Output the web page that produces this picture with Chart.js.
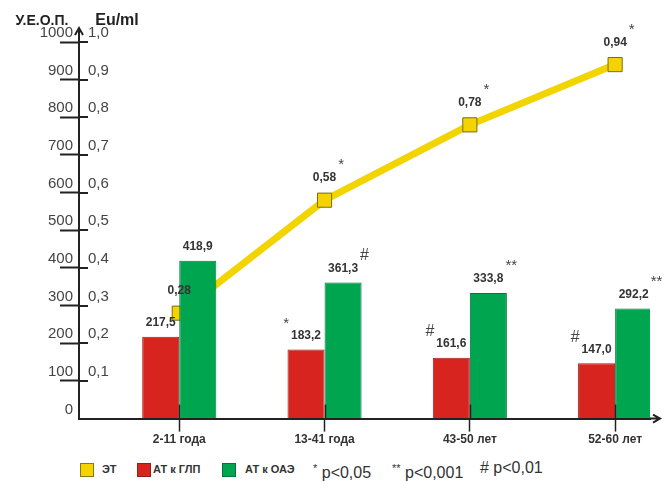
<!DOCTYPE html>
<html lang="ru">

<head>
    <meta charset="UTF-8">
    <title>ЭТ, АТ к ГЛП, АТ к ОАЭ</title>
    <style>
        body {
            margin: 0;
            padding: 0;
            background-color: #fff;
            font-family: "Liberation Sans", Arial, sans-serif;
        }

        .wrap {
            position: relative;
            width: 665px;
            height: 481px;
        }

        .chart-box {
            position: absolute;
            left: 0;
            top: 0;
            width: 665px;
            height: 452px;
        }

        .legend span {
            position: absolute;
            top: 460px;
            line-height: 18px;
            color: #333;
            white-space: nowrap;
        }

        .legend .box {
            width: 12px;
            height: 12px;
            top: 463px;
            border: 1px solid #555;
        }

        .legend .lbl {
            font-size: 11px;
            font-weight: bold;
        }

        .legend .sig {
            font-size: 16px;
            top: 459px;
        }
    </style>
</head>

<body>

    <div class="wrap">
        <div class="chart-box">
            <canvas id="mainChart"></canvas>
        </div>
        <div class="legend">
            <span class="box" style="left:80px; background:#f5d300; border-color:#8a7a10"></span>
            <span class="lbl" style="left:102px">ЭТ</span>
            <span class="box" style="left:137px; background:#d8241f; border-color:#a01a16"></span>
            <span class="lbl" style="left:153px">АТ к ГЛП</span>
            <span class="box" style="left:222px; background:#00a550; border-color:#00763a"></span>
            <span class="lbl" style="left:245px">АТ к ОАЭ</span>
            <span class="sig" style="left:313px"><sup style="font-size:11px">*</sup> p&lt;0,05</span>
            <span class="sig" style="left:392px"><sup style="font-size:11px">**</sup> p&lt;0,001</span>
            <span class="sig" style="left:480px"># p&lt;0,01</span>
        </div>
    </div>

    <script src="https://cdn.jsdelivr.net/npm/chart.js"></script>

    <script>
        // data
        var ageGroups = ['2-11 года', '13-41 года', '43-50 лет', '52-60 лет'];
        var etValues = [0.28, 0.58, 0.78, 0.94];      // Eu/ml
        var glpValues = [217.5, 183.2, 161.6, 147.0]; // У.Е.О.П.
        var oaeValues = [418.9, 361.3, 333.8, 292.2]; // У.Е.О.П.
        var etMarks = ['', '*', '*', '*'];
        var glpMarks = ['', '*', '#', '#'];
        var oaeMarks = ['', '#', '**', '**'];

        var FONT = '"Liberation Sans", Arial, sans-serif';
        var AXIS = '#222';

        function fmt(v, d) {
            return v.toFixed(d).replace('.', ',');
        }

        function points(values) {
            return values.map((v, i) => ({ x: i, y: v }));
        }

        // value labels and significance signs above each mark
        var valueLabels = {
            id: 'valueLabels',
            afterDatasetsDraw(chart) {
                var ctx = chart.ctx;
                ctx.save();
                chart.data.datasets.forEach((ds, di) => {
                    var meta = chart.getDatasetMeta(di);
                    var isLine = ds.type === 'line';
                    meta.data.forEach((el, i) => {
                        var txt = fmt(ds.data[i].y, isLine ? 2 : 1);
                        var ty = el.y - (isLine ? 22 : 14);
                        ctx.font = 'bold 12px ' + FONT;
                        ctx.fillStyle = '#333';
                        ctx.textAlign = 'center';
                        ctx.textBaseline = 'middle';
                        ctx.fillText(txt, el.x, ty);
                        var w = ctx.measureText(txt).width;
                        var mark = ds.marks[i];
                        if (mark) {
                            ctx.font = (mark === '#' ? '16px ' : '15px ') + FONT;
                            ctx.fillStyle = '#444';
                            if (ds.markSide === 'left') {
                                ctx.textAlign = 'right';
                                ctx.fillText(mark, el.x - w / 2 - 2, ty - 12);
                            } else {
                                ctx.textAlign = 'left';
                                ctx.fillText(mark, el.x + w / 2 + 2, ty - 13);
                            }
                        }
                    });
                });
                // small tick marks running up into the bars
                var xs = chart.scales.x;
                var bottom = chart.chartArea.bottom;
                ctx.strokeStyle = AXIS;
                ctx.lineWidth = 1.5;
                xs.ticks.forEach(t => {
                    var px = Math.round(xs.getPixelForValue(t.value)) + 0.5;
                    ctx.beginPath();
                    ctx.moveTo(px, bottom - 14);
                    ctx.lineTo(px, bottom);
                    ctx.stroke();
                });
                ctx.restore();
            }
        };

        // arrows on the axes, tick stubs right of the y axis, axis units
        var axisDecor = {
            id: 'axisDecor',
            afterDraw(chart) {
                var ctx = chart.ctx;
                var area = chart.chartArea;
                var ys = chart.scales.y;
                var left = area.left;
                var bottom = area.bottom;
                ctx.save();
                ctx.strokeStyle = AXIS;
                ctx.fillStyle = AXIS;
                ctx.lineWidth = 2;

                ctx.beginPath();
                ctx.moveTo(left, area.top);
                ctx.lineTo(left, 28);
                ctx.moveTo(left - 4, 35);
                ctx.lineTo(left, 28);
                ctx.lineTo(left + 4, 35);
                ctx.stroke();

                ctx.beginPath();
                ctx.moveTo(area.right, bottom);
                ctx.lineTo(660, bottom);
                ctx.moveTo(653, bottom - 4);
                ctx.lineTo(660, bottom);
                ctx.lineTo(653, bottom + 4);
                ctx.stroke();

                ys.ticks.forEach(t => {
                    if (t.value === 0) return;
                    var py = Math.round(ys.getPixelForValue(t.value));
                    ctx.beginPath();
                    ctx.moveTo(left, py);
                    ctx.lineTo(left + 9, py);
                    ctx.stroke();
                });

                ctx.textBaseline = 'middle';
                ctx.textAlign = 'center';
                ctx.font = 'bold 14px ' + FONT;
                ctx.fillText('У.Е.О.П.', 42, 21);
                ctx.font = 'bold 16px ' + FONT;
                ctx.fillText('Eu/ml', 117, 21);
                ctx.restore();
            }
        };

        var ctx = document.getElementById('mainChart').getContext('2d');
        new Chart(ctx, {
            type: 'bar',
            data: {
                datasets: [
                    {
                        type: 'line',
                        label: 'ЭТ',
                        data: points(etValues),
                        yAxisID: 'y1',
                        borderColor: '#f2d400',
                        borderWidth: 7,
                        pointStyle: 'rect',
                        pointRadius: 10,
                        pointBackgroundColor: '#f5d300',
                        pointBorderColor: '#7d6c10',
                        pointBorderWidth: 1,
                        marks: etMarks,
                        markSide: 'right',
                        order: 3
                    },
                    {
                        label: 'АТ к ГЛП',
                        data: points(glpValues),
                        yAxisID: 'y',
                        backgroundColor: '#d8241f',
                        borderColor: '#a31b17',
                        borderWidth: 1,
                        marks: glpMarks,
                        markSide: 'left',
                        order: 1
                    },
                    {
                        label: 'АТ к ОАЭ',
                        data: points(oaeValues),
                        yAxisID: 'y',
                        backgroundColor: '#00a550',
                        borderColor: '#00773b',
                        borderWidth: 1,
                        marks: oaeMarks,
                        markSide: 'right',
                        order: 2
                    }
                ]
            },
            options: {
                responsive: true,
                maintainAspectRatio: false,
                animation: false,
                categoryPercentage: 0.51,
                barPercentage: 1.0,
                layout: {
                    padding: { top: 42, right: 15, bottom: 4, left: 0 }
                },
                plugins: {
                    legend: { display: false },
                    tooltip: { enabled: false }
                },
                scales: {
                    x: {
                        type: 'linear',
                        min: -0.69,
                        max: 3.24,
                        offset: false,
                        afterBuildTicks: axis => {
                            axis.ticks = ageGroups.map((_, i) => ({ value: i }));
                        },
                        grid: {
                            offset: false,
                            drawOnChartArea: false,
                            tickLength: 13,
                            tickWidth: 1.5,
                            tickColor: AXIS
                        },
                        border: { color: AXIS, width: 2 },
                        ticks: {
                            padding: 1,
                            color: '#333',
                            font: { family: FONT, size: 12, weight: 'bold' },
                            callback: value => ageGroups[value] || ''
                        }
                    },
                    y: {
                        position: 'left',
                        weight: 1,
                        min: 0,
                        max: 1000,
                        afterFit: axis => { axis.width = 79; },
                        grid: {
                            drawOnChartArea: false,
                            tickLength: 19,
                            tickWidth: 2,
                            tickColor: ctx => ctx.tick && ctx.tick.value === 0 ? 'rgba(0,0,0,0)' : AXIS
                        },
                        border: { color: AXIS, width: 2 },
                        ticks: {
                            stepSize: 100,
                            padding: -13,
                            labelOffset: -9,
                            color: '#444',
                            font: { family: FONT, size: 15 },
                            callback: value => String(value)
                        }
                    },
                    y1: {
                        position: 'left',
                        weight: 0,
                        min: 0,
                        max: 1,
                        afterFit: axis => { axis.width = 0; },
                        grid: { display: false },
                        border: { display: false },
                        ticks: {
                            stepSize: 0.1,
                            mirror: true,
                            padding: 9,
                            labelOffset: -9,
                            color: '#444',
                            font: { family: FONT, size: 15 },
                            callback: value => value === 0 ? '' : fmt(value, 1)
                        }
                    }
                }
            },
            plugins: [valueLabels, axisDecor]
        });
    </script>

</body>

</html>
